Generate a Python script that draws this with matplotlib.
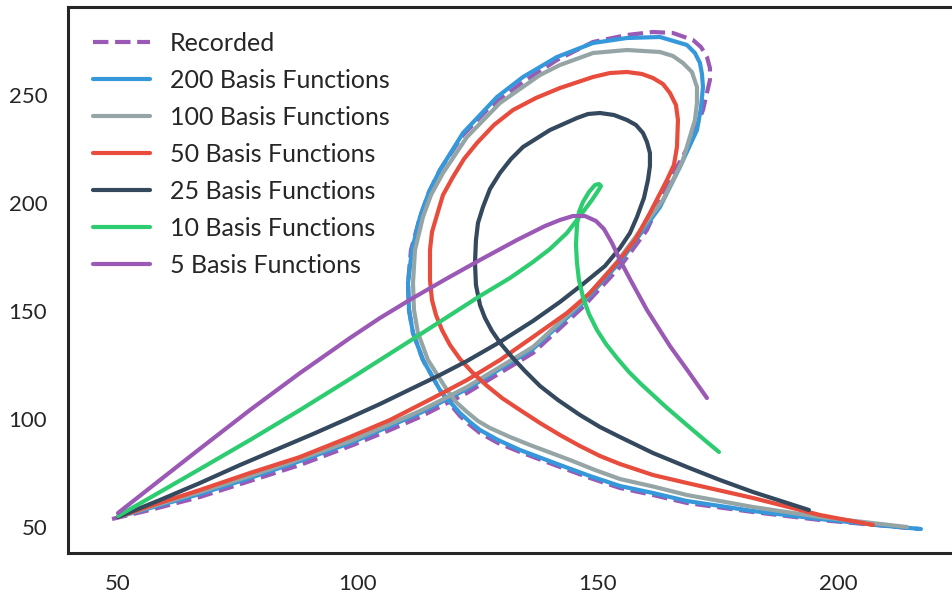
import matplotlib
matplotlib.use("Agg")
import matplotlib.pyplot as plt

# recorded trajectory and its reconstructions with fewer basis functions
rec_x = [48.75, 56.67, 67.08, 77.5, 87.92, 98.96, 106.67, 112.92, 122.71, 136.46, 146.88, 154.58,
         160.21, 165.0, 169.17, 171.88, 173.33, 173.33, 172.71, 171.46, 169.79, 165.63, 161.46,
         156.04, 148.96, 141.46, 134.38, 127.5, 121.88, 117.08, 114.79, 112.92, 111.04, 110.42,
         110.63, 111.46, 113.54, 117.08, 119.17, 121.25, 123.33, 125.42, 129.17, 133.75, 142.08,
         148.33, 154.58, 161.46, 168.54, 182.29, 196.25, 210.21, 216.88]
rec_y = [53.70, 57.87, 63.89, 71.29, 78.70, 87.96, 94.91, 100.92, 112.04, 130.55, 151.85, 170.37,
         187.50, 210.65, 227.78, 243.05, 256.94, 262.50, 267.59, 272.22, 275.46, 278.70, 279.17,
         277.78, 274.54, 266.20, 256.02, 244.44, 231.48, 215.28, 205.09, 193.52, 178.24, 162.96,
         150.46, 139.81, 127.31, 113.42, 106.94, 101.39, 97.22, 93.52, 88.89, 84.72, 77.78,
         72.68, 68.05, 64.81, 61.11, 56.94, 53.24, 50.46, 49.07]

b200_x = [50.0, 56.67, 67.08, 77.5, 87.92, 98.96, 112.92, 122.71, 136.46, 146.88, 154.58, 162.92,
          167.08, 170.63, 171.46, 171.88, 171.67, 171.25, 170.21, 168.54, 162.92, 156.04, 148.96,
          141.46, 134.38, 128.96, 121.88, 117.08, 114.79, 112.92, 111.25, 110.42, 110.63, 111.46,
          113.54, 117.08, 119.17, 121.25, 123.33, 125.42, 129.17, 133.75, 142.08, 148.33, 154.58,
          161.46, 168.54, 182.29, 196.25, 210.21, 217.29]
b200_y = [54.63, 58.79, 65.28, 72.68, 80.55, 89.35, 102.78, 113.89, 132.41, 153.70, 172.68, 198.15,
          216.67, 233.79, 243.98, 253.70, 259.72, 264.81, 269.44, 273.15, 276.85, 276.39, 274.07,
          267.59, 258.33, 249.07, 232.41, 215.28, 205.09, 193.52, 178.24, 162.96, 150.46, 139.81,
          127.31, 113.42, 107.87, 102.78, 98.61, 94.91, 90.28, 85.65, 78.70, 73.61, 68.98,
          65.74, 62.04, 57.41, 53.70, 50.46, 49.07]

b100_x = [50.0, 56.67, 67.08, 77.5, 87.92, 98.96, 112.92, 122.71, 136.46, 146.88, 153.96, 163.54,
          167.71, 170.21, 170.63, 170.63, 169.58, 167.71, 165.63, 162.92, 156.04, 148.96, 142.08,
          137.92, 129.58, 122.71, 117.71, 115.21, 113.54, 111.88, 111.46, 111.67, 112.5, 114.58,
          118.54, 120.42, 122.71, 125.0, 127.5, 131.67, 135.83, 144.17, 149.38, 154.58, 161.46,
          168.54, 182.29, 196.25, 214.38]
b100_y = [54.63, 59.26, 66.20, 73.61, 81.48, 90.28, 103.70, 114.81, 133.33, 154.63, 172.68, 201.39,
          219.91, 238.43, 246.30, 253.70, 260.65, 264.81, 268.05, 269.91, 270.83, 269.44, 263.89,
          259.26, 246.30, 230.55, 213.89, 203.70, 193.52, 178.24, 162.96, 150.46, 139.81, 127.31,
          113.42, 107.87, 103.24, 99.07, 95.83, 91.67, 87.96, 81.02, 76.39, 72.22, 68.75,
          64.81, 59.26, 54.63, 50.0]

b50_x = [50.0, 56.67, 67.08, 77.5, 87.92, 98.33, 106.67, 115.63, 122.71, 129.58, 136.46, 143.54,
         148.33, 153.96, 157.71, 160.83, 164.38, 165.83, 166.46, 166.67, 166.25, 165.0, 163.54,
         161.46, 159.17, 156.04, 152.5, 148.96, 142.08, 137.08, 132.29, 128.33, 124.79, 122.08,
         119.79, 117.71, 116.46, 115.42, 115.0, 115.0, 115.42, 116.25, 117.5, 119.17, 121.25,
         123.75, 126.67, 130.0, 133.75, 137.92, 142.08, 146.25, 150.42, 154.58, 161.46, 168.54,
         182.29, 196.25, 207.29]
b50_y = [54.63, 59.72, 67.13, 75.0, 82.41, 91.67, 99.54, 109.72, 118.05, 127.31, 137.96, 149.07,
         158.33, 172.22, 182.87, 195.37, 210.65, 217.59, 225.93, 238.43, 245.37, 250.93, 255.09,
         257.87, 259.72, 260.65, 260.18, 258.33, 253.24, 248.61, 243.05, 236.11, 227.78, 220.37,
         212.04, 203.70, 194.44, 186.57, 178.24, 164.35, 155.09, 148.15, 141.20, 134.26, 127.78,
         121.76, 115.74, 109.72, 104.17, 98.15, 92.59, 87.50, 82.87, 79.17, 74.07, 70.37,
         63.43, 55.56, 50.93]

b25_x = [50.0, 58.75, 67.08, 75.42, 83.75, 90.63, 97.71, 104.58, 111.46, 117.08, 122.71, 129.58,
         136.46, 142.08, 146.88, 151.46, 154.58, 156.67, 158.13, 159.58, 160.42, 160.83, 160.83,
         160.21, 159.38, 157.92, 156.04, 153.33, 150.42, 147.92, 145.63, 140.0, 134.38, 131.88,
         129.58, 127.5, 126.04, 125.0, 124.58, 124.38, 124.58, 125.42, 126.46, 127.92, 129.79,
         132.08, 134.79, 137.92, 141.67, 146.25, 150.42, 154.58, 161.46, 168.54, 175.42, 182.29,
         193.96]
b25_y = [54.63, 62.5, 70.37, 78.70, 86.57, 93.05, 100.0, 106.94, 114.35, 120.37, 126.85, 135.65,
         145.37, 154.17, 162.50, 170.83, 179.17, 186.11, 193.52, 202.31, 210.65, 217.13, 223.15,
         228.24, 232.41, 236.11, 238.43, 240.74, 241.67, 241.20, 239.35, 233.79, 225.93, 220.37,
         213.89, 206.48, 198.15, 190.74, 182.87, 172.22, 162.04, 152.78, 146.76, 140.74, 134.72,
         128.70, 122.22, 115.28, 108.79, 101.85, 96.30, 91.67, 84.26, 77.78, 71.76, 66.20,
         57.87]

b10_x = [50.0, 58.75, 67.08, 77.5, 87.92, 98.33, 111.46, 125.42, 131.67, 136.46, 140.0, 143.54,
         146.25, 148.75, 150.0, 150.63, 150.21, 149.38, 148.13, 146.88, 146.04, 145.63, 145.42,
         145.63, 146.04, 146.88, 148.13, 149.79, 151.67, 153.96, 156.46, 158.96, 161.46, 164.17,
         167.08, 170.0, 172.71, 175.21]
b10_y = [55.09, 66.20, 76.85, 90.28, 104.17, 118.52, 137.04, 156.94, 165.28, 172.68, 178.70, 186.11,
         193.98, 201.39, 205.55, 207.87, 208.80, 208.33, 205.09, 200.46, 195.83, 189.81, 180.55,
         172.22, 164.35, 156.48, 148.61, 141.20, 134.72, 128.24, 121.76, 116.20, 111.11, 105.55,
         100.0, 94.44, 89.35, 84.72]

b5_x = [50.0, 58.75, 66.46, 77.5, 87.92, 98.33, 104.58, 111.46, 118.33, 125.42, 133.13, 138.96,
        142.08, 144.79, 147.29, 149.58, 151.25, 152.92, 154.58, 156.67, 160.21, 165.0, 168.75,
        172.71]
b5_y = [56.48, 71.76, 85.18, 104.17, 121.29, 137.50, 146.76, 156.02, 164.81, 173.61, 182.87, 189.35,
        192.13, 193.98, 193.98, 191.67, 187.96, 181.48, 173.61, 164.81, 150.46, 133.79, 122.22,
        109.72]

plt.rcParams['font.family'] = ['Lato', 'DejaVu Sans']
plt.rcParams['text.color'] = '#262626'

fig = plt.figure(figsize=(9.52, 6.01), dpi=100)
ax = fig.add_axes([68 / 952, 48 / 601, 888 / 952, 546 / 601])

lw = 3.0
kw = dict(lw=lw, solid_capstyle='round', solid_joinstyle='round')
ax.plot(rec_x, rec_y, '--', color='#9b59b6', lw=lw, label='Recorded')
ax.plot(b200_x, b200_y, color='#3498db', label='200 Basis Functions', **kw)
ax.plot(b100_x, b100_y, color='#95a5a6', label='100 Basis Functions', **kw)
ax.plot(b50_x, b50_y, color='#e74c3c', label='50 Basis Functions', **kw)
ax.plot(b25_x, b25_y, color='#34495e', label='25 Basis Functions', **kw)
ax.plot(b10_x, b10_y, color='#2ecc71', label='10 Basis Functions', **kw)
ax.plot(b5_x, b5_y, color='#9b59b6', label='5 Basis Functions', **kw)

ax.set_xlim(39.58, 224.6)
ax.set_ylim(37.96, 290.74)
ax.set_xticks([50, 100, 150, 200])
ax.set_yticks([50, 100, 150, 200, 250])
ax.tick_params(length=0, labelsize=16, labelcolor='#262626')
ax.tick_params(axis='x', pad=15)
ax.tick_params(axis='y', pad=15)
for s in ax.spines.values():
    s.set_linewidth(2.2)
    s.set_color('#262626')

ax.legend(loc='upper left', frameon=False, fontsize=18, handlelength=2.28,
          handletextpad=0.8, labelspacing=0.56, borderaxespad=0.6)

fig.savefig('out.png', dpi=100)
